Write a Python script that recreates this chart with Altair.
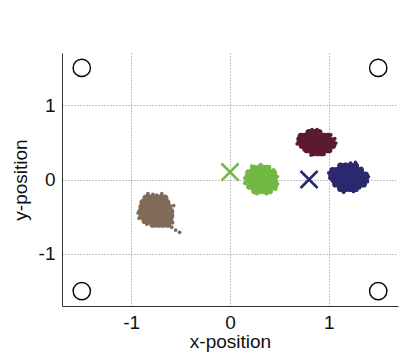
import altair as alt
import pandas as pd

# ---- data ----
clusters = ["brown", "green", "maroon", "navy"]
cluster_colors = ["#806a58", "#72b944", "#5b1a2f", "#2b296e"]

brown_core = [
    (-0.85, -0.25), (-0.81, -0.25), (-0.76, -0.25), (-0.71, -0.25), (-0.66, -0.25),
    (-0.88, -0.31), (-0.83, -0.31), (-0.78, -0.31), (-0.73, -0.31), (-0.68, -0.31), (-0.64, -0.31),
    (-0.89, -0.37), (-0.84, -0.37), (-0.80, -0.37), (-0.75, -0.37), (-0.71, -0.37), (-0.66, -0.37), (-0.62, -0.37),
    (-0.90, -0.43), (-0.85, -0.43), (-0.80, -0.43), (-0.75, -0.43), (-0.70, -0.43), (-0.65, -0.43), (-0.60, -0.43),
    (-0.89, -0.49), (-0.84, -0.49), (-0.79, -0.49), (-0.74, -0.49), (-0.69, -0.49), (-0.64, -0.49), (-0.60, -0.49),
    (-0.86, -0.55), (-0.81, -0.55), (-0.76, -0.55), (-0.71, -0.55), (-0.66, -0.55), (-0.61, -0.55),
    (-0.78, -0.60), (-0.73, -0.60), (-0.68, -0.60), (-0.63, -0.60),
]
brown_fringe = [
    (-0.83, -0.19), (-0.69, -0.19), (-0.78, -0.20), (-0.74, -0.21), (-0.93, -0.45),
    (-0.92, -0.52), (-0.84, -0.60), (-0.59, -0.64), (-0.55, -0.68), (-0.51, -0.71),
    (-0.58, -0.58), (-0.57, -0.35),
]
green_core = [
    (0.24, 0.15), (0.29, 0.15), (0.34, 0.15), (0.38, 0.15),
    (0.19, 0.09), (0.23, 0.09), (0.28, 0.09), (0.32, 0.09), (0.37, 0.09), (0.41, 0.09), (0.44, 0.09),
    (0.18, 0.03), (0.22, 0.03), (0.27, 0.03), (0.31, 0.03), (0.36, 0.03), (0.40, 0.03), (0.45, 0.03),
    (0.18, -0.03), (0.22, -0.03), (0.27, -0.03), (0.31, -0.03), (0.36, -0.03), (0.40, -0.03), (0.45, -0.03),
    (0.20, -0.09), (0.24, -0.09), (0.29, -0.09), (0.33, -0.09), (0.38, -0.09), (0.42, -0.09), (0.45, -0.09),
    (0.25, -0.15), (0.30, -0.15), (0.35, -0.15), (0.40, -0.15),
]
green_fringe = [
    (0.22, 0.18), (0.31, 0.20), (0.40, 0.17), (0.15, 0.02), (0.15, -0.05), (0.48, 0.04),
    (0.48, -0.06), (0.27, -0.19), (0.37, -0.19), (0.44, 0.13), (0.46, -0.13),
]
maroon_core = [
    (0.80, 0.63), (0.85, 0.63), (0.90, 0.63),
    (0.72, 0.58), (0.76, 0.58), (0.81, 0.58), (0.85, 0.58), (0.90, 0.58), (0.95, 0.58), (0.99, 0.58),
    (0.71, 0.52), (0.75, 0.52), (0.80, 0.52), (0.84, 0.52), (0.89, 0.52), (0.93, 0.52), (0.98, 0.52), (1.03, 0.52),
    (0.73, 0.46), (0.77, 0.46), (0.82, 0.46), (0.86, 0.46), (0.91, 0.46), (0.95, 0.46), (1.00, 0.46), (1.04, 0.46),
    (0.78, 0.40), (0.83, 0.40), (0.87, 0.40), (0.92, 0.40), (0.96, 0.40), (1.00, 0.40),
    (0.84, 0.36), (0.89, 0.36), (0.93, 0.36),
]
maroon_fringe = [
    (0.83, 0.67), (0.88, 0.67), (0.69, 0.55), (0.68, 0.48), (1.07, 0.49), (1.06, 0.55),
    (0.75, 0.40), (0.82, 0.33), (0.95, 0.34), (1.02, 0.60),
]
navy_core = [
    (1.12, 0.18), (1.17, 0.18), (1.22, 0.18), (1.27, 0.18),
    (1.04, 0.12), (1.08, 0.12), (1.13, 0.12), (1.18, 0.12), (1.23, 0.12), (1.28, 0.12), (1.32, 0.12),
    (1.03, 0.06), (1.08, 0.06), (1.13, 0.06), (1.18, 0.06), (1.23, 0.06), (1.28, 0.06), (1.33, 0.06), (1.37, 0.06),
    (1.05, 0.00), (1.09, 0.00), (1.14, 0.00), (1.19, 0.00), (1.24, 0.00), (1.29, 0.00), (1.34, 0.00), (1.37, 0.00),
    (1.07, -0.06), (1.12, -0.06), (1.17, -0.06), (1.22, -0.06), (1.27, -0.06), (1.32, -0.06), (1.35, -0.06),
    (1.12, -0.12), (1.17, -0.12), (1.22, -0.12), (1.27, -0.12),
]
navy_fringe = [
    (1.27, 0.23), (1.22, 0.22), (1.00, 0.09), (1.01, 0.02), (1.40, 0.04), (1.39, -0.03),
    (1.15, -0.17), (1.25, -0.16), (1.33, 0.15), (1.31, -0.11),
]

anchor_x = [-1.5, 1.5, -1.5, 1.5]
anchor_y = [1.5, 1.5, -1.5, -1.5]

cross_x = [0.0, 0.8]
cross_y = [0.1, 0.0]
cross_group = ["green", "navy"]

# ---- build tables ----
rows = []
for name, core, fringe in [
    ("brown", brown_core, brown_fringe),
    ("green", green_core, green_fringe),
    ("maroon", maroon_core, maroon_fringe),
    ("navy", navy_core, navy_fringe),
]:
    for (x, y) in core:
        rows.append({"x": x, "y": y, "cluster": name, "kind": "core"})
    for (x, y) in fringe:
        rows.append({"x": x, "y": y, "cluster": name, "kind": "fringe"})
pts = pd.DataFrame(rows)
anchors = pd.DataFrame({"x": anchor_x, "y": anchor_y})
crosses = pd.DataFrame({"x": cross_x, "y": cross_y, "cluster": cross_group})

FONT = "Liberation Sans"
xscale = alt.Scale(domain=[-1.7, 1.7], nice=False, zero=False)
yscale = alt.Scale(domain=[-1.7, 1.7], nice=False, zero=False)
color_scale = alt.Scale(domain=clusters, range=cluster_colors)

xaxis = alt.Axis(values=[-1, 0, 1], title="x-position", labelExpr="'' + datum.value",
                 grid=True, gridDash=[1, 2], gridColor="#8a8a8a", gridWidth=1,
                 ticks=False, domainColor="#333333", labelPadding=7, titlePadding=0,
                 labelFontSize=19, titleFontSize=19, labelFont=FONT, titleFont=FONT,
                 labelColor="#111111", titleColor="#111111", titleFontWeight="normal")
yaxis = alt.Axis(values=[-1, 0, 1], title="y-position", labelExpr="'' + datum.value",
                 grid=True, gridDash=[1, 2], gridColor="#8a8a8a", gridWidth=1,
                 ticks=False, domainColor="#333333", labelPadding=7, titlePadding=8,
                 labelFontSize=19, titleFontSize=19, labelFont=FONT, titleFont=FONT,
                 labelColor="#111111", titleColor="#111111", titleFontWeight="normal")

base_axes = alt.Chart(anchors).mark_point(
    shape="circle", size=300, filled=False, color="black", strokeWidth=1.4, opacity=1
).encode(
    x=alt.X("x:Q", scale=xscale, axis=xaxis),
    y=alt.Y("y:Q", scale=yscale, axis=yaxis),
)

cluster_layer = alt.Chart(pts).mark_circle(opacity=1).encode(
    x=alt.X("x:Q", scale=xscale),
    y=alt.Y("y:Q", scale=yscale),
    color=alt.Color("cluster:N", scale=color_scale, legend=None),
    size=alt.Size("kind:N", scale=alt.Scale(domain=["core", "fringe"], range=[52, 14]), legend=None),
)

cross_layer = alt.Chart(crosses).mark_point(
    shape="M-1,-1L1,1M-1,1L1,-1", size=290, filled=False, strokeWidth=2.6, opacity=1
).encode(
    x=alt.X("x:Q", scale=xscale),
    y=alt.Y("y:Q", scale=yscale),
    color=alt.Color("cluster:N", scale=color_scale, legend=None),
)

chart = alt.layer(base_axes, cross_layer, cluster_layer).properties(
    width=336, height=253,
    autosize=alt.AutoSizeParams(type="none"),
    padding={"left": 62, "top": 53, "right": 3, "bottom": 46},
).configure(background="white").configure_view(strokeWidth=0, strokeOpacity=0)

chart.save("out.html", embed_options={"renderer": "svg", "actions": False})
